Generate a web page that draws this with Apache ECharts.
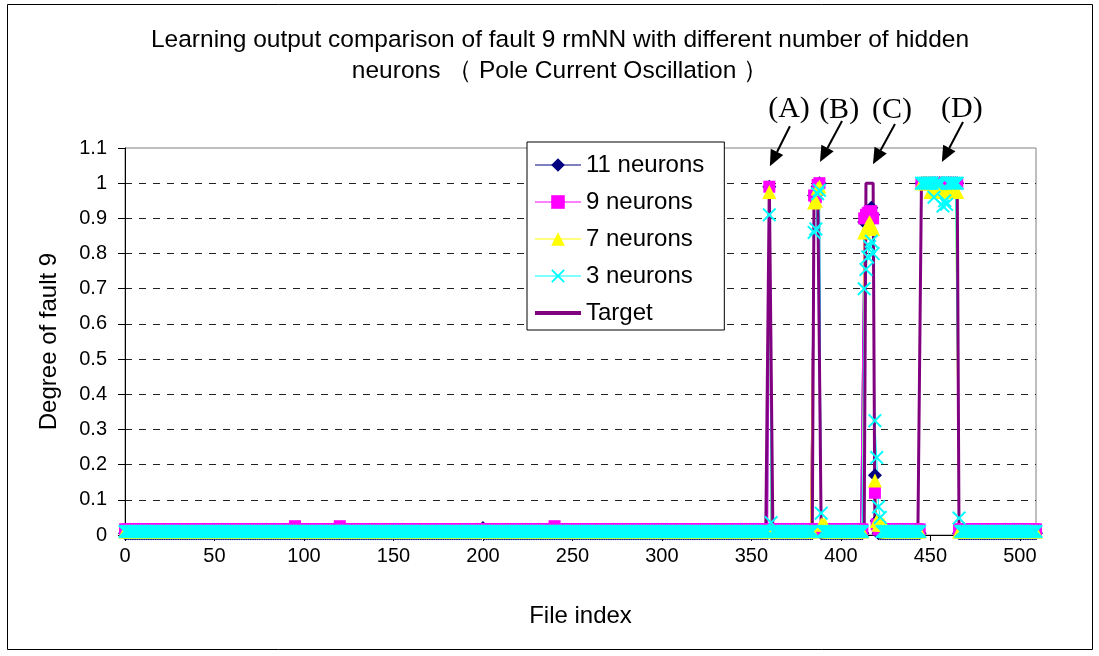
<!DOCTYPE html>
<html><head><meta charset="utf-8">
<script src="https://cdn.jsdelivr.net/npm/echarts@6/dist/echarts.min.js"></script>
<style>html,body{margin:0;padding:0;background:#fff}#c{width:1099px;height:656px}</style>
</head><body><div id="c"></div>
<script>
// ---- data ----
const fileIndex = Array.from({length: 510}, (_, i) => i);   // file indices 0..509
const xTickLabels = [0, 50, 100, 150, 200, 250, 300, 350, 400, 450, 500];
const yTickLabels = [0, 0.1, 0.2, 0.3, 0.4, 0.5, 0.6, 0.7, 0.8, 0.9, 1, 1.1];
const seriesNames = ['11 neurons', '9 neurons', '7 neurons', '3 neurons', 'Target'];

// near-zero output level away from the faults
const base11 = 0.005, base9 = 0.016, base7 = 0.01, base3 = 0.01, baseTarget = 0;

// non-baseline runs: [first file index, [values...]]
const runs11 = [
  [200, [0.02]],
  [360, [0.99]],
  [385, [0.965, 0.965, 0.99, 1.0]],
  [413, [0.89, 0.91, 0.92, 0.92, 0.93, 0.91, 0.17, 0.04]],
  [445, [1,1,1,1,1,1,1,1,1,1,1,1,1,1,1,1,1,1,1,1,1]]
];
const runs9 = [
  [95, [0.025]], [120, [0.025]], [240, [0.025]],
  [360, [0.99]],
  [385, [0.965, 0.96, 0.995, 1.0]],
  [413, [0.9, 0.91, 0.915, 0.92, 0.92, 0.9, 0.12, 0.03]],
  [445, [1,1,1,1,1,1,1,1,1,1,1,1,1,1,1,1,1,1,1,1,1]]
];
const runs7 = [
  [360, [0.975]],
  [385, [0.945, 0.95, 0.985, 0.99, 0.03, 0.03, 0.03]],
  [413, [0.86, 0.87, 0.88, 0.89, 0.88, 0.87, 0.155, 0.04, 0.03, 0.03, 0.03, 0.03]],
  [445, [1,1,1,1,1,0.975,0.975,0.975,0.975,0.975,0.975,0.975,0.975,0.975,0.975,0.975,0.975,0.975,0.975,0.975,0.975]]
];
const runs3 = [
  [360, [0.91, 0.035]],
  [385, [0.86, 0.87, 0.97, 0.98, 0.062]],
  [413, [0.7, 0.755, 0.79, 0.82, 0.835, 0.8, 0.325, 0.22, 0.08, 0.05]],
  [445, [1,1,1,1,1,1,1,0.96,1,1,1,1,0.935,0.95,0.94,1,1,1,1,1,1,0.048]]
];
const runsTarget = [
  [360, [1, 1]],
  [385, [1, 1, 1, 1]],
  [414, [1, 1, 1, 1, 1]],
  [445, [1,1,1,1,1,1,1,1,1,1,1,1,1,1,1,1,1,1,1,1,1]]
];

// annotations (data coordinates of label, arrow tail, arrow tip)
const annotations = [
  {text: '(A)', label: [371, 1.21], tail: [371.5, 1.162], tip: [360.3, 1.048]},
  {text: '(B)', label: [399, 1.208], tail: [400.6, 1.177], tip: [388.3, 1.06]},
  {text: '(C)', label: [428.5, 1.208], tail: [430.2, 1.168], tip: [417.9, 1.054]},
  {text: '(D)', label: [467.6, 1.211], tail: [468.2, 1.174], tip: [456.4, 1.06]}
];

function build(base, runs) {
  const v = fileIndex.map(() => base);
  runs.forEach(([s, vals]) => vals.forEach((y, k) => { v[s + k] = y; }));
  return fileIndex.map((x, i) => [x, v[i]]);
}

const X_PATH = 'path://M0,1L1,0L5,4L9,0L10,1L6,5L10,9L9,10L5,6L1,10L0,9L4,5Z';
const FONT = '"Liberation Sans", Arial, sans-serif';
const colors = ['#000080', '#FF00FF', '#FFFF00', '#00FFFF', '#800080'];
const symbols = ['diamond', 'rect', 'triangle', X_PATH];
const symbolSizes = [14, 12, 14, 14];
const predData = [build(base11, runs11), build(base9, runs9), build(base7, runs7), build(base3, runs3)];

const chart = echarts.init(document.getElementById('c'), null, {renderer: 'canvas'});

// lines first (under), then the target, then the markers on top
const series = [];
predData.forEach((d, i) => series.push({
  name: seriesNames[i] + ' line', type: 'line', data: d, symbol: 'none', clip: false, z: 1,
  lineStyle: {color: colors[i], width: 1}, itemStyle: {color: colors[i]}, emphasis: {disabled: true}, silent: true
}));
series.push({
  name: seriesNames[4], type: 'line', data: build(baseTarget, runsTarget), symbol: 'none',
  z: 1, clip: false, lineStyle: {color: colors[4], width: 3}, itemStyle: {color: colors[4]},
  emphasis: {disabled: true}
});
predData.forEach((d, i) => series.push({
  name: seriesNames[i], type: 'line', data: d, symbol: symbols[i], symbolSize: symbolSizes[i],
  showSymbol: true, showAllSymbol: true, clip: false, z: 2,
  itemStyle: {color: colors[i], opacity: 1},
  lineStyle: {color: colors[i], width: 1, opacity: 0},
  emphasis: {disabled: true}
}));

chart.setOption({
  animation: false,
  backgroundColor: '#fff',
  title: {
    text: 'Learning output comparison of fault 9 rmNN with different number of hidden\nneurons （ Pole Current Oscillation ）',
    left: 555, top: 20, textAlign: 'center',
    textStyle: {fontFamily: FONT, fontSize: 24.5, fontWeight: 'normal', color: '#000', lineHeight: 31}
  },
  legend: {
    orient: 'vertical', left: 527, top: 142,
    data: seriesNames.map((n, i) => i < 4
      ? {name: n, lineStyle: {width: 1, opacity: 1, color: colors[i]}}
      : {name: n, lineStyle: {width: 4, opacity: 1, color: colors[4]}, itemStyle: {opacity: 0}}),
    itemWidth: 46, itemHeight: 17, itemGap: 13,
    padding: [11, 20, 5, 6],
    backgroundColor: '#fff', borderColor: '#000', borderWidth: 1,
    textStyle: {fontFamily: FONT, fontSize: 24, color: '#000'},
    selectedMode: false
  },
  grid: {left: 125, top: 148, right: 63, bottom: 121, show: true, borderColor: '#808080', borderWidth: 1, backgroundColor: '#fff'},
  xAxis: {
    type: 'value', min: 0, max: 509, interval: 50,
    name: 'File index', nameLocation: 'middle', nameGap: 69,
    nameTextStyle: {fontFamily: FONT, fontSize: 24, color: '#000'},
    axisLine: {show: true, onZero: false, lineStyle: {color: '#000', width: 1}},
    axisTick: {show: true, inside: false, length: 6, lineStyle: {color: '#000'}, customValues: xTickLabels},
    axisLabel: {fontFamily: FONT, fontSize: 20, color: '#000', margin: 11, customValues: xTickLabels},
    splitLine: {show: false}
  },
  yAxis: {
    type: 'value', min: 0, max: 1.1, interval: 0.1,
    name: 'Degree of fault 9', nameLocation: 'middle', nameGap: 64,
    nameTextStyle: {fontFamily: FONT, fontSize: 24, color: '#000'},
    axisLine: {show: true, lineStyle: {color: '#000', width: 1}},
    axisTick: {show: true, inside: false, length: 7, lineStyle: {color: '#000'}},
    axisLabel: {fontFamily: FONT, fontSize: 20, color: '#000', margin: 18,
      formatter: v => String(Math.round(v * 10) / 10)},
    splitLine: {show: true, showMinLine: false, showMaxLine: false, lineStyle: {color: '#222', width: 1, type: [7, 7]}}
  },
  series
});

// annotations with arrows
const g = [];
annotations.forEach(a => {
  const lp = chart.convertToPixel({gridIndex: 0}, a.label);
  const t0 = chart.convertToPixel({gridIndex: 0}, a.tail);
  const t1 = chart.convertToPixel({gridIndex: 0}, a.tip);
  const dx = t1[0] - t0[0], dy = t1[1] - t0[1], L = Math.hypot(dx, dy);
  const ux = dx / L, uy = dy / L, nx = -uy, ny = ux;
  const head = 16, hw = 7;
  const bx = t1[0] - ux * head, by = t1[1] - uy * head;
  g.push({type: 'text', x: lp[0], y: lp[1], z: 10,
    style: {text: a.text, fill: '#000', font: '30px "Liberation Serif", "Times New Roman", serif', align: 'center', verticalAlign: 'middle'}});
  g.push({type: 'line', z: 10, shape: {x1: t0[0], y1: t0[1], x2: bx, y2: by}, style: {stroke: '#000', lineWidth: 2}});
  g.push({type: 'polygon', z: 10, shape: {points: [[t1[0], t1[1]], [bx + nx * hw, by + ny * hw], [bx - nx * hw, by - ny * hw]]}, style: {fill: '#000'}});
});
// outer chart frame
g.push({type: 'rect', z: 20, shape: {x: 7.5, y: 4.5, width: 1085, height: 645}, style: {fill: 'none', stroke: '#000', lineWidth: 1}});
chart.setOption({graphic: g});
</script></body></html>
